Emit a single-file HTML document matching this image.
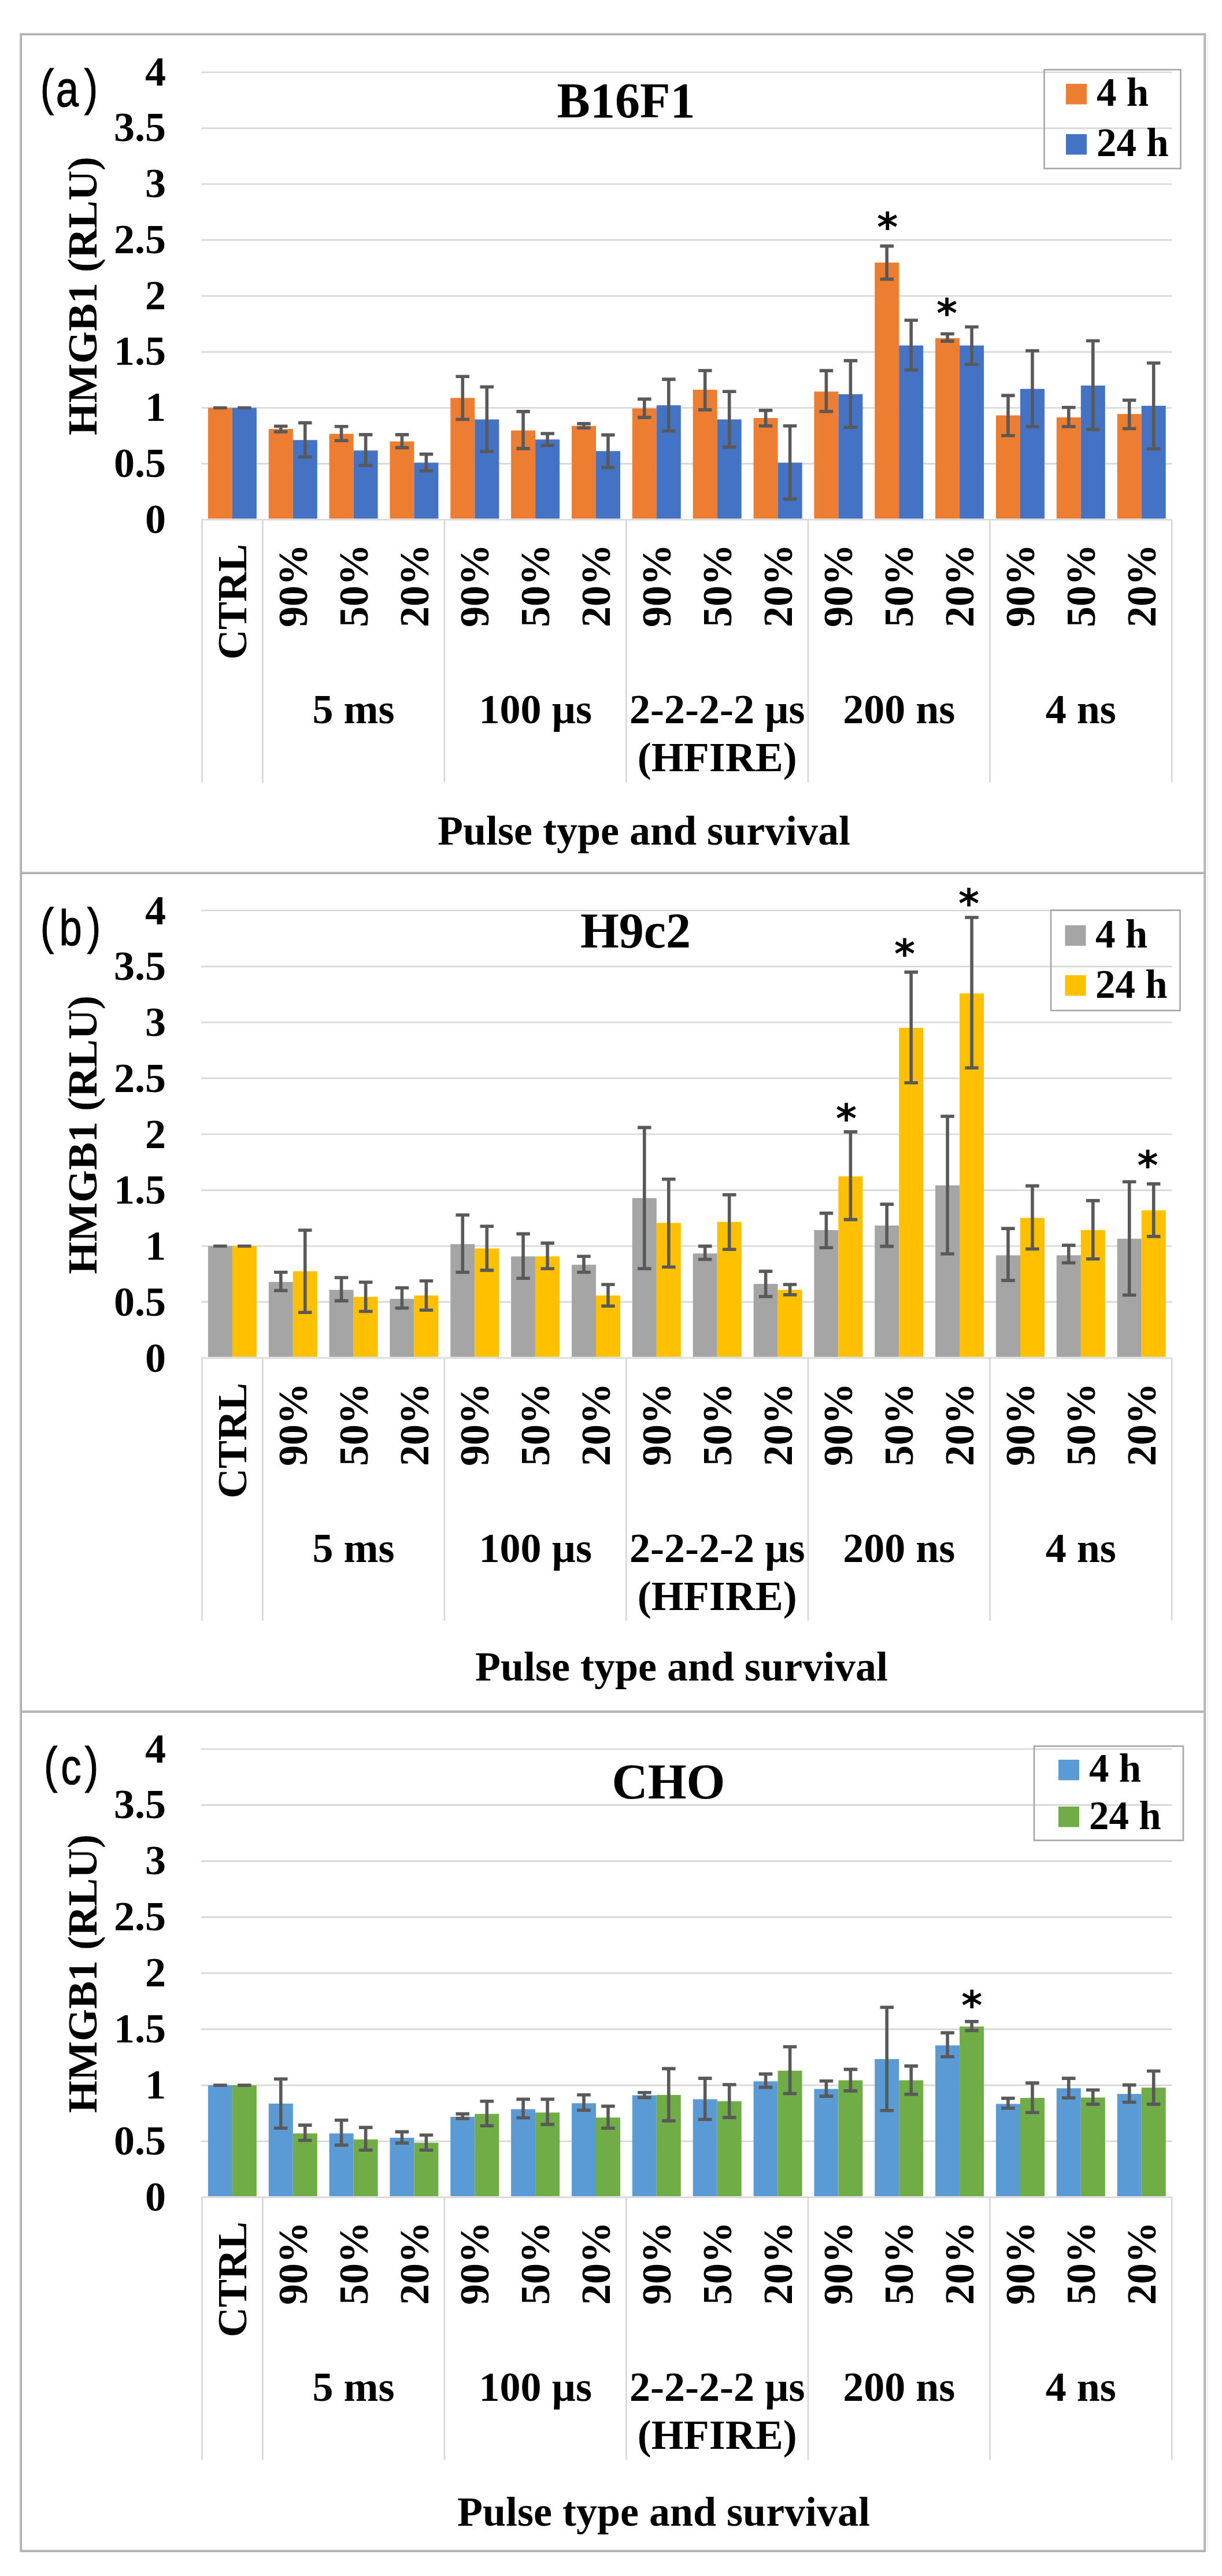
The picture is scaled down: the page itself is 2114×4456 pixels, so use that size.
<!DOCTYPE html>
<html lang="en"><head><meta charset="utf-8"><title>HMGB1 release after pulse treatment</title>
<style>html,body{margin:0;padding:0;background:#fff;overflow:hidden}svg{display:block}text{font-family:"Liberation Serif","DejaVu Serif",serif;font-weight:bold;fill:#000}.s{font-family:"Liberation Sans","DejaVu Sans",sans-serif;font-weight:normal}.st{font-family:"DejaVu Sans","Liberation Sans","DejaVu Sans",sans-serif;font-weight:bold}</style></head><body>
<svg width="2114" height="4456" viewBox="0 0 2114 4456">
<rect width="2114" height="4456" fill="#fff"/>
<g id="panel-a">
<g stroke="#d7d7d7" stroke-width="2.7" fill="none">
<line x1="348.0" y1="899.0" x2="2027.6" y2="899.0"/>
<line x1="348.0" y1="802.2" x2="2027.6" y2="802.2"/>
<line x1="348.0" y1="705.5" x2="2027.6" y2="705.5"/>
<line x1="348.0" y1="608.8" x2="2027.6" y2="608.8"/>
<line x1="348.0" y1="512.0" x2="2027.6" y2="512.0"/>
<line x1="348.0" y1="415.2" x2="2027.6" y2="415.2"/>
<line x1="348.0" y1="318.5" x2="2027.6" y2="318.5"/>
<line x1="348.0" y1="221.8" x2="2027.6" y2="221.8"/>
<line x1="348.0" y1="125.0" x2="2027.6" y2="125.0"/>
<line x1="349.5" y1="899.0" x2="349.5" y2="1353.5"/>
<line x1="454.4" y1="899.0" x2="454.4" y2="1353.5"/>
<line x1="768.9" y1="899.0" x2="768.9" y2="1353.5"/>
<line x1="1083.4" y1="899.0" x2="1083.4" y2="1353.5"/>
<line x1="1398.0" y1="899.0" x2="1398.0" y2="1353.5"/>
<line x1="1712.5" y1="899.0" x2="1712.5" y2="1353.5"/>
<line x1="2027.1" y1="899.0" x2="2027.1" y2="1353.5"/>
</g>
<g fill="#ED7D31">
<rect x="359.9" y="705.5" width="42.0" height="191.6"/>
<rect x="464.8" y="742.1" width="42.0" height="155.0"/>
<rect x="569.6" y="750.5" width="42.0" height="146.6"/>
<rect x="674.4" y="763.6" width="42.0" height="133.5"/>
<rect x="779.3" y="688.4" width="42.0" height="208.7"/>
<rect x="884.1" y="744.6" width="42.0" height="152.5"/>
<rect x="989.0" y="736.8" width="42.0" height="160.3"/>
<rect x="1093.8" y="706.5" width="42.0" height="190.6"/>
<rect x="1198.7" y="674.2" width="42.0" height="222.9"/>
<rect x="1303.6" y="723.1" width="42.0" height="174.0"/>
<rect x="1408.4" y="677.3" width="42.0" height="219.8"/>
<rect x="1513.2" y="454.2" width="42.0" height="442.9"/>
<rect x="1618.1" y="585.0" width="42.0" height="312.1"/>
<rect x="1723.0" y="718.5" width="42.0" height="178.6"/>
<rect x="1827.8" y="722.0" width="42.0" height="175.1"/>
<rect x="1932.7" y="716.2" width="42.0" height="180.9"/>
</g>
<g fill="#4472C4">
<rect x="401.9" y="705.5" width="42.0" height="191.6"/>
<rect x="506.8" y="761.2" width="42.0" height="135.9"/>
<rect x="611.6" y="779.3" width="42.0" height="117.8"/>
<rect x="716.4" y="800.3" width="42.0" height="96.8"/>
<rect x="821.3" y="725.5" width="42.0" height="171.6"/>
<rect x="926.1" y="760.2" width="42.0" height="136.9"/>
<rect x="1031.0" y="780.3" width="42.0" height="116.8"/>
<rect x="1135.8" y="701.1" width="42.0" height="196.0"/>
<rect x="1240.7" y="725.5" width="42.0" height="171.6"/>
<rect x="1345.6" y="800.3" width="42.0" height="96.8"/>
<rect x="1450.4" y="681.9" width="42.0" height="215.2"/>
<rect x="1555.2" y="597.6" width="42.0" height="299.5"/>
<rect x="1660.1" y="597.6" width="42.0" height="299.5"/>
<rect x="1765.0" y="672.7" width="42.0" height="224.4"/>
<rect x="1869.8" y="666.9" width="42.0" height="230.2"/>
<rect x="1974.7" y="701.9" width="42.0" height="195.2"/>
</g>
<g stroke="#595959" stroke-width="5.6" fill="none">
<path d="M369.1 705.5h23.5M369.1 705.5h23.5M485.8 737.3V747.0M474.0 737.3h23.5M474.0 747.0h23.5M590.6 737.8V762.2M578.9 737.8h23.5M578.9 762.2h23.5M695.4 751.9V774.4M683.7 751.9h23.5M683.7 774.4h23.5M800.3 651.3V725.5M788.5 651.3h23.5M788.5 725.5h23.5M905.1 711.9V775.9M893.4 711.9h23.5M893.4 775.9h23.5M1010.0 732.9V740.2M998.2 732.9h23.5M998.2 740.2h23.5M1114.8 690.4V722.1M1103.1 690.4h23.5M1103.1 722.1h23.5M1219.7 641.0V708.9M1208.0 641.0h23.5M1208.0 708.9h23.5M1324.6 709.9V736.8M1312.8 709.9h23.5M1312.8 736.8h23.5M1429.4 641.1V711.7M1417.7 641.1h23.5M1417.7 711.7h23.5M1534.2 425.6V482.9M1522.5 425.6h23.5M1522.5 482.9h23.5M1639.1 577.5V590.1M1627.3 577.5h23.5M1627.3 590.1h23.5M1744.0 684.1V753.5M1732.2 684.1h23.5M1732.2 753.5h23.5M1848.8 704.8V738.0M1837.0 704.8h23.5M1837.0 738.0h23.5M1953.7 692.2V741.5M1941.9 692.2h23.5M1941.9 741.5h23.5M411.1 705.5h23.5M411.1 705.5h23.5M527.8 731.4V790.5M516.0 731.4h23.5M516.0 790.5h23.5M632.6 751.9V805.2M620.9 751.9h23.5M620.9 805.2h23.5M737.4 785.6V814.5M725.7 785.6h23.5M725.7 814.5h23.5M842.3 669.3V781.2M830.5 669.3h23.5M830.5 781.2h23.5M947.1 750.0V770.5M935.4 750.0h23.5M935.4 770.5h23.5M1052.0 752.4V808.6M1040.2 752.4h23.5M1040.2 808.6h23.5M1156.8 656.1V745.6M1145.1 656.1h23.5M1145.1 745.6h23.5M1261.7 677.2V773.4M1250.0 677.2h23.5M1250.0 773.4h23.5M1366.6 736.8V863.3M1354.8 736.8h23.5M1354.8 863.3h23.5M1471.4 623.9V739.2M1459.7 623.9h23.5M1459.7 739.2h23.5M1576.2 554.0V640.0M1564.5 554.0h23.5M1564.5 640.0h23.5M1681.1 565.5V630.2M1669.3 565.5h23.5M1669.3 630.2h23.5M1786.0 606.7V738.0M1774.2 606.7h23.5M1774.2 738.0h23.5M1890.8 589.5V742.6M1879.0 589.5h23.5M1879.0 742.6h23.5M1995.7 628.0V776.5M1983.9 628.0h23.5M1983.9 776.5h23.5"/>
</g>
<text class="st" x="1535.2" y="416.5" font-size="69" text-anchor="middle">*</text>
<text class="st" x="1638.0" y="566.1" font-size="69" text-anchor="middle">*</text>
<g font-size="72" text-anchor="end">
<text x="287" y="921.5">0</text>
<text x="287" y="824.8">0.5</text>
<text x="287" y="728.0">1</text>
<text x="287" y="631.2">1.5</text>
<text x="287" y="534.5">2</text>
<text x="287" y="437.8">2.5</text>
<text x="287" y="341.0">3</text>
<text x="287" y="244.2">3.5</text>
<text x="287" y="147.5">4</text>
</g>
<text font-size="72" text-anchor="middle" transform="translate(167 512.0) rotate(-90)">HMGB1 (RLU)</text>
<text class="s" font-size="84" stroke="#000" stroke-width="1.1" transform="translate(0 181.2) scale(0.84 1.03)"><tspan x="83.1">(</tspan><tspan x="115.1" dy="2.4">a</tspan><tspan x="173.4" dy="-2.4">)</tspan></text>
<text font-size="86" text-anchor="middle" x="1083.0" y="203.0">B16F1</text>
<g font-size="72" text-anchor="end">
<text transform="translate(425.9 941.0) rotate(-90)">CTRL</text>
<text transform="translate(530.8 941.0) rotate(-90)">90%</text>
<text transform="translate(635.6 941.0) rotate(-90)">50%</text>
<text transform="translate(740.5 941.0) rotate(-90)">20%</text>
<text transform="translate(845.3 941.0) rotate(-90)">90%</text>
<text transform="translate(950.2 941.0) rotate(-90)">50%</text>
<text transform="translate(1055.0 941.0) rotate(-90)">20%</text>
<text transform="translate(1159.9 941.0) rotate(-90)">90%</text>
<text transform="translate(1264.7 941.0) rotate(-90)">50%</text>
<text transform="translate(1369.6 941.0) rotate(-90)">20%</text>
<text transform="translate(1474.4 941.0) rotate(-90)">90%</text>
<text transform="translate(1579.3 941.0) rotate(-90)">50%</text>
<text transform="translate(1684.1 941.0) rotate(-90)">20%</text>
<text transform="translate(1789.0 941.0) rotate(-90)">90%</text>
<text transform="translate(1893.8 941.0) rotate(-90)">50%</text>
<text transform="translate(1998.7 941.0) rotate(-90)">20%</text>
</g>
<g font-size="72" text-anchor="middle">
<text x="611.6" y="1251.0">5 ms</text>
<text x="926.2" y="1251.0">100 µs</text>
<text x="1240.7" y="1251.0">2-2-2-2 µs</text>
<text x="1240.7" y="1334.0">(HFIRE)</text>
<text x="1555.3" y="1251.0">200 ns</text>
<text x="1869.8" y="1251.0">4 ns</text>
</g>
<text font-size="72" x="757.0" y="1461.0">Pulse type and survival</text>
<rect x="1806.5" y="120.5" width="236.0" height="171.0" fill="none" stroke="#a6a6a6" stroke-width="2.6"/>
<rect x="1844.0" y="145.0" width="36" height="35.5" fill="#ED7D31"/>
<rect x="1844.0" y="232.0" width="36" height="35.5" fill="#4472C4"/>
<text font-size="69" x="1897.0" y="183.0">4 h</text>
<text font-size="69" x="1897.0" y="270.0">24 h</text>
</g>
<g id="panel-b">
<g stroke="#d7d7d7" stroke-width="2.7" fill="none">
<line x1="348.0" y1="2349.0" x2="2027.6" y2="2349.0"/>
<line x1="348.0" y1="2252.2" x2="2027.6" y2="2252.2"/>
<line x1="348.0" y1="2155.5" x2="2027.6" y2="2155.5"/>
<line x1="348.0" y1="2058.8" x2="2027.6" y2="2058.8"/>
<line x1="348.0" y1="1962.0" x2="2027.6" y2="1962.0"/>
<line x1="348.0" y1="1865.2" x2="2027.6" y2="1865.2"/>
<line x1="348.0" y1="1768.5" x2="2027.6" y2="1768.5"/>
<line x1="348.0" y1="1671.8" x2="2027.6" y2="1671.8"/>
<line x1="348.0" y1="1575.0" x2="2027.6" y2="1575.0"/>
<line x1="349.5" y1="2349.0" x2="349.5" y2="2803.5"/>
<line x1="454.4" y1="2349.0" x2="454.4" y2="2803.5"/>
<line x1="768.9" y1="2349.0" x2="768.9" y2="2803.5"/>
<line x1="1083.4" y1="2349.0" x2="1083.4" y2="2803.5"/>
<line x1="1398.0" y1="2349.0" x2="1398.0" y2="2803.5"/>
<line x1="1712.5" y1="2349.0" x2="1712.5" y2="2803.5"/>
<line x1="2027.1" y1="2349.0" x2="2027.1" y2="2803.5"/>
</g>
<g fill="#A5A5A5">
<rect x="359.9" y="2155.5" width="42.0" height="191.6"/>
<rect x="464.8" y="2217.5" width="42.0" height="129.6"/>
<rect x="569.6" y="2231.2" width="42.0" height="115.9"/>
<rect x="674.4" y="2246.7" width="42.0" height="100.4"/>
<rect x="779.3" y="2152.1" width="42.0" height="195.0"/>
<rect x="884.1" y="2173.3" width="42.0" height="173.8"/>
<rect x="989.0" y="2187.7" width="42.0" height="159.4"/>
<rect x="1093.8" y="2072.4" width="42.0" height="274.7"/>
<rect x="1198.7" y="2168.2" width="42.0" height="178.9"/>
<rect x="1303.6" y="2220.9" width="42.0" height="126.2"/>
<rect x="1408.4" y="2127.8" width="42.0" height="219.3"/>
<rect x="1513.2" y="2119.9" width="42.0" height="227.2"/>
<rect x="1618.1" y="2050.4" width="42.0" height="296.7"/>
<rect x="1723.0" y="2171.4" width="42.0" height="175.7"/>
<rect x="1827.8" y="2171.4" width="42.0" height="175.7"/>
<rect x="1932.7" y="2142.7" width="42.0" height="204.4"/>
</g>
<g fill="#FFC000">
<rect x="401.9" y="2155.5" width="42.0" height="191.6"/>
<rect x="506.8" y="2199.1" width="42.0" height="148.0"/>
<rect x="611.6" y="2243.3" width="42.0" height="103.8"/>
<rect x="716.4" y="2241.0" width="42.0" height="106.1"/>
<rect x="821.3" y="2159.6" width="42.0" height="187.5"/>
<rect x="926.1" y="2173.3" width="42.0" height="173.8"/>
<rect x="1031.0" y="2241.0" width="42.0" height="106.1"/>
<rect x="1135.8" y="2115.4" width="42.0" height="231.7"/>
<rect x="1240.7" y="2113.7" width="42.0" height="233.4"/>
<rect x="1345.6" y="2231.2" width="42.0" height="115.9"/>
<rect x="1450.4" y="2034.9" width="42.0" height="312.2"/>
<rect x="1555.2" y="1778.0" width="42.0" height="569.1"/>
<rect x="1660.1" y="1718.4" width="42.0" height="628.7"/>
<rect x="1765.0" y="2106.7" width="42.0" height="240.4"/>
<rect x="1869.8" y="2127.8" width="42.0" height="219.3"/>
<rect x="1974.7" y="2093.6" width="42.0" height="253.5"/>
</g>
<g stroke="#595959" stroke-width="5.6" fill="none">
<path d="M369.1 2155.5h23.5M369.1 2155.5h23.5M485.8 2200.8V2232.4M474.0 2200.8h23.5M474.0 2232.4h23.5M590.6 2210.0V2250.1M578.9 2210.0h23.5M578.9 2250.1h23.5M695.4 2227.8V2262.7M683.7 2227.8h23.5M683.7 2262.7h23.5M800.3 2101.7V2200.8M788.5 2101.7h23.5M788.5 2200.8h23.5M905.1 2134.4V2211.2M893.4 2134.4h23.5M893.4 2211.2h23.5M1010.0 2173.3V2200.8M998.2 2173.3h23.5M998.2 2200.8h23.5M1114.8 1950.4V2194.5M1103.1 1950.4h23.5M1103.1 2194.5h23.5M1219.7 2155.6V2178.5M1208.0 2155.6h23.5M1208.0 2178.5h23.5M1324.6 2199.1V2242.7M1312.8 2199.1h23.5M1312.8 2242.7h23.5M1429.4 2098.6V2158.2M1417.7 2098.6h23.5M1417.7 2158.2h23.5M1534.2 2083.1V2155.9M1522.5 2083.1h23.5M1522.5 2155.9h23.5M1639.1 1931.0V2169.0M1627.3 1931.0h23.5M1627.3 2169.0h23.5M1744.0 2125.1V2214.9M1732.2 2125.1h23.5M1732.2 2214.9h23.5M1848.8 2154.1V2184.5M1837.0 2154.1h23.5M1837.0 2184.5h23.5M1953.7 2044.2V2240.3M1941.9 2044.2h23.5M1941.9 2240.3h23.5M411.1 2155.5h23.5M411.1 2155.5h23.5M527.8 2128.0V2270.2M516.0 2128.0h23.5M516.0 2270.2h23.5M632.6 2218.0V2268.5M620.9 2218.0h23.5M620.9 2268.5h23.5M737.4 2215.7V2266.2M725.7 2215.7h23.5M725.7 2266.2h23.5M842.3 2121.2V2197.4M830.5 2121.2h23.5M830.5 2197.4h23.5M947.1 2150.4V2194.5M935.4 2150.4h23.5M935.4 2194.5h23.5M1052.0 2222.0V2259.3M1040.2 2222.0h23.5M1040.2 2259.3h23.5M1156.8 2039.8V2191.7M1145.1 2039.8h23.5M1145.1 2191.7h23.5M1261.7 2066.7V2161.3M1250.0 2066.7h23.5M1250.0 2161.3h23.5M1366.6 2222.0V2239.8M1354.8 2222.0h23.5M1354.8 2239.8h23.5M1471.4 1957.9V2109.6M1459.7 1957.9h23.5M1459.7 2109.6h23.5M1576.2 1681.6V1873.0M1564.5 1681.6h23.5M1564.5 1873.0h23.5M1681.1 1587.0V1847.3M1669.3 1587.0h23.5M1669.3 1847.3h23.5M1786.0 2051.4V2160.5M1774.2 2051.4h23.5M1774.2 2160.5h23.5M1890.8 2076.9V2177.8M1879.0 2076.9h23.5M1879.0 2177.8h23.5M1995.7 2047.9V2138.9M1983.9 2047.9h23.5M1983.9 2138.9h23.5"/>
</g>
<text class="st" x="1464.0" y="1959.0" font-size="69" text-anchor="middle">*</text>
<text class="st" x="1565.0" y="1673.5" font-size="69" text-anchor="middle">*</text>
<text class="st" x="1676.0" y="1587.0" font-size="69" text-anchor="middle">*</text>
<text class="st" x="1985.5" y="2040.3" font-size="69" text-anchor="middle">*</text>
<g font-size="72" text-anchor="end">
<text x="287" y="2372.5">0</text>
<text x="287" y="2275.8">0.5</text>
<text x="287" y="2179.0">1</text>
<text x="287" y="2082.2">1.5</text>
<text x="287" y="1985.5">2</text>
<text x="287" y="1888.8">2.5</text>
<text x="287" y="1792.0">3</text>
<text x="287" y="1695.2">3.5</text>
<text x="287" y="1598.5">4</text>
</g>
<text font-size="72" text-anchor="middle" transform="translate(167 1963.0) rotate(-90)">HMGB1 (RLU)</text>
<text class="s" font-size="84" stroke="#000" stroke-width="1.1" transform="translate(0 1632.2) scale(0.84 1.03)"><tspan x="83.1">(</tspan><tspan x="121.9" dy="2.4">b</tspan><tspan x="179.4" dy="-2.4">)</tspan></text>
<text font-size="86" text-anchor="middle" x="1099.5" y="1638.5">H9c2</text>
<g font-size="72" text-anchor="end">
<text transform="translate(425.9 2392.0) rotate(-90)">CTRL</text>
<text transform="translate(530.8 2392.0) rotate(-90)">90%</text>
<text transform="translate(635.6 2392.0) rotate(-90)">50%</text>
<text transform="translate(740.5 2392.0) rotate(-90)">20%</text>
<text transform="translate(845.3 2392.0) rotate(-90)">90%</text>
<text transform="translate(950.2 2392.0) rotate(-90)">50%</text>
<text transform="translate(1055.0 2392.0) rotate(-90)">20%</text>
<text transform="translate(1159.9 2392.0) rotate(-90)">90%</text>
<text transform="translate(1264.7 2392.0) rotate(-90)">50%</text>
<text transform="translate(1369.6 2392.0) rotate(-90)">20%</text>
<text transform="translate(1474.4 2392.0) rotate(-90)">90%</text>
<text transform="translate(1579.3 2392.0) rotate(-90)">50%</text>
<text transform="translate(1684.1 2392.0) rotate(-90)">20%</text>
<text transform="translate(1789.0 2392.0) rotate(-90)">90%</text>
<text transform="translate(1893.8 2392.0) rotate(-90)">50%</text>
<text transform="translate(1998.7 2392.0) rotate(-90)">20%</text>
</g>
<g font-size="72" text-anchor="middle">
<text x="611.6" y="2702.0">5 ms</text>
<text x="926.2" y="2702.0">100 µs</text>
<text x="1240.7" y="2702.0">2-2-2-2 µs</text>
<text x="1240.7" y="2785.0">(HFIRE)</text>
<text x="1555.3" y="2702.0">200 ns</text>
<text x="1869.8" y="2702.0">4 ns</text>
</g>
<text font-size="72" x="822.0" y="2907.0">Pulse type and survival</text>
<rect x="1818.0" y="1574.5" width="223.5" height="173.5" fill="none" stroke="#a6a6a6" stroke-width="2.6"/>
<rect x="1842.5" y="1600.5" width="36" height="35.5" fill="#A5A5A5"/>
<rect x="1842.5" y="1687.0" width="36" height="35.5" fill="#FFC000"/>
<text font-size="69" x="1895.0" y="1639.0">4 h</text>
<text font-size="69" x="1895.0" y="1726.0">24 h</text>
</g>
<g id="panel-c">
<g stroke="#d7d7d7" stroke-width="2.7" fill="none">
<line x1="348.0" y1="3800.9" x2="2027.6" y2="3800.9"/>
<line x1="348.0" y1="3704.0" x2="2027.6" y2="3704.0"/>
<line x1="348.0" y1="3607.1" x2="2027.6" y2="3607.1"/>
<line x1="348.0" y1="3510.1" x2="2027.6" y2="3510.1"/>
<line x1="348.0" y1="3413.2" x2="2027.6" y2="3413.2"/>
<line x1="348.0" y1="3316.3" x2="2027.6" y2="3316.3"/>
<line x1="348.0" y1="3219.4" x2="2027.6" y2="3219.4"/>
<line x1="348.0" y1="3122.4" x2="2027.6" y2="3122.4"/>
<line x1="348.0" y1="3025.5" x2="2027.6" y2="3025.5"/>
<line x1="349.5" y1="3800.9" x2="349.5" y2="4255.4"/>
<line x1="454.4" y1="3800.9" x2="454.4" y2="4255.4"/>
<line x1="768.9" y1="3800.9" x2="768.9" y2="4255.4"/>
<line x1="1083.4" y1="3800.9" x2="1083.4" y2="4255.4"/>
<line x1="1398.0" y1="3800.9" x2="1398.0" y2="4255.4"/>
<line x1="1712.5" y1="3800.9" x2="1712.5" y2="4255.4"/>
<line x1="2027.1" y1="3800.9" x2="2027.1" y2="4255.4"/>
</g>
<g fill="#5B9BD5">
<rect x="359.9" y="3607.1" width="42.0" height="191.9"/>
<rect x="464.8" y="3638.8" width="42.0" height="160.2"/>
<rect x="569.6" y="3690.4" width="42.0" height="108.6"/>
<rect x="674.4" y="3697.9" width="42.0" height="101.1"/>
<rect x="779.3" y="3661.7" width="42.0" height="137.3"/>
<rect x="884.1" y="3648.5" width="42.0" height="150.5"/>
<rect x="989.0" y="3638.2" width="42.0" height="160.8"/>
<rect x="1093.8" y="3624.4" width="42.0" height="174.6"/>
<rect x="1198.7" y="3631.3" width="42.0" height="167.7"/>
<rect x="1303.6" y="3600.3" width="42.0" height="198.7"/>
<rect x="1408.4" y="3613.5" width="42.0" height="185.5"/>
<rect x="1513.2" y="3561.8" width="42.0" height="237.2"/>
<rect x="1618.1" y="3538.2" width="42.0" height="260.8"/>
<rect x="1723.0" y="3639.3" width="42.0" height="159.7"/>
<rect x="1827.8" y="3612.3" width="42.0" height="186.7"/>
<rect x="1932.7" y="3622.1" width="42.0" height="176.9"/>
</g>
<g fill="#70AD47">
<rect x="401.9" y="3607.1" width="42.0" height="191.9"/>
<rect x="506.8" y="3690.4" width="42.0" height="108.6"/>
<rect x="611.6" y="3700.8" width="42.0" height="98.2"/>
<rect x="716.4" y="3706.5" width="42.0" height="92.5"/>
<rect x="821.3" y="3656.6" width="42.0" height="142.4"/>
<rect x="926.1" y="3654.3" width="42.0" height="144.7"/>
<rect x="1031.0" y="3662.9" width="42.0" height="136.1"/>
<rect x="1135.8" y="3623.8" width="42.0" height="175.2"/>
<rect x="1240.7" y="3634.7" width="42.0" height="164.3"/>
<rect x="1345.6" y="3581.9" width="42.0" height="217.1"/>
<rect x="1450.4" y="3598.5" width="42.0" height="200.5"/>
<rect x="1555.2" y="3598.5" width="42.0" height="200.5"/>
<rect x="1660.1" y="3505.5" width="42.0" height="293.5"/>
<rect x="1765.0" y="3629.0" width="42.0" height="170.0"/>
<rect x="1869.8" y="3628.4" width="42.0" height="170.6"/>
<rect x="1974.7" y="3611.2" width="42.0" height="187.8"/>
</g>
<g stroke="#595959" stroke-width="5.6" fill="none">
<path d="M369.1 3607.1h23.5M369.1 3607.1h23.5M485.8 3596.3V3681.3M474.0 3596.3h23.5M474.0 3681.3h23.5M590.6 3667.5V3710.6M578.9 3667.5h23.5M578.9 3710.6h23.5M695.4 3687.6V3707.1M683.7 3687.6h23.5M683.7 3707.1h23.5M800.3 3656.6V3664.6M788.5 3656.6h23.5M788.5 3664.6h23.5M905.1 3631.3V3663.5M893.4 3631.3h23.5M893.4 3663.5h23.5M1010.0 3623.8V3650.2M998.2 3623.8h23.5M998.2 3650.2h23.5M1114.8 3619.8V3628.4M1103.1 3619.8h23.5M1103.1 3628.4h23.5M1219.7 3595.1V3666.3M1208.0 3595.1h23.5M1208.0 3666.3h23.5M1324.6 3587.6V3610.6M1312.8 3587.6h23.5M1312.8 3610.6h23.5M1429.4 3599.7V3626.1M1417.7 3599.7h23.5M1417.7 3626.1h23.5M1534.2 3472.2V3650.8M1522.5 3472.2h23.5M1522.5 3650.8h23.5M1639.1 3516.4V3557.8M1627.3 3516.4h23.5M1627.3 3557.8h23.5M1744.0 3629.6V3646.8M1732.2 3629.6h23.5M1732.2 3646.8h23.5M1848.8 3595.1V3629.0M1837.0 3595.1h23.5M1837.0 3629.0h23.5M1953.7 3606.6V3636.5M1941.9 3606.6h23.5M1941.9 3636.5h23.5M411.1 3607.1h23.5M411.1 3607.1h23.5M527.8 3676.1V3702.5M516.0 3676.1h23.5M516.0 3702.5h23.5M632.6 3680.1V3719.2M620.9 3680.1h23.5M620.9 3719.2h23.5M737.4 3693.3V3719.2M725.7 3693.3h23.5M725.7 3719.2h23.5M842.3 3634.7V3677.2M830.5 3634.7h23.5M830.5 3677.2h23.5M947.1 3631.3V3674.9M935.4 3631.3h23.5M935.4 3674.9h23.5M1052.0 3643.4V3681.3M1040.2 3643.4h23.5M1040.2 3681.3h23.5M1156.8 3578.4V3668.6M1145.1 3578.4h23.5M1145.1 3668.6h23.5M1261.7 3606.0V3662.9M1250.0 3606.0h23.5M1250.0 3662.9h23.5M1366.6 3540.5V3621.5M1354.8 3540.5h23.5M1354.8 3621.5h23.5M1471.4 3579.6V3616.9M1459.7 3579.6h23.5M1459.7 3616.9h23.5M1576.2 3573.9V3622.7M1564.5 3573.9h23.5M1564.5 3622.7h23.5M1681.1 3496.9V3512.4M1669.3 3496.9h23.5M1669.3 3512.4h23.5M1786.0 3603.1V3654.3M1774.2 3603.1h23.5M1774.2 3654.3h23.5M1890.8 3615.2V3639.9M1879.0 3615.2h23.5M1879.0 3639.9h23.5M1995.7 3582.5V3639.9M1983.9 3582.5h23.5M1983.9 3639.9h23.5"/>
</g>
<text class="st" x="1681.3" y="3493.3" font-size="69" text-anchor="middle">*</text>
<g font-size="72" text-anchor="end">
<text x="287" y="3823.9">0</text>
<text x="287" y="3727.0">0.5</text>
<text x="287" y="3630.1">1</text>
<text x="287" y="3533.1">1.5</text>
<text x="287" y="3436.2">2</text>
<text x="287" y="3339.3">2.5</text>
<text x="287" y="3242.4">3</text>
<text x="287" y="3145.4">3.5</text>
<text x="287" y="3048.5">4</text>
</g>
<text font-size="72" text-anchor="middle" transform="translate(167 3414.0) rotate(-90)">HMGB1 (RLU)</text>
<text class="s" font-size="84" stroke="#000" stroke-width="1.1" transform="translate(0 3083.2) scale(0.84 1.03)"><tspan x="90.6">(</tspan><tspan x="125.3" dy="2.4">c</tspan><tspan x="174.6" dy="-2.4">)</tspan></text>
<text font-size="86" text-anchor="middle" x="1156.5" y="3111.0">CHO</text>
<g font-size="72" text-anchor="end">
<text transform="translate(425.9 3843.0) rotate(-90)">CTRL</text>
<text transform="translate(530.8 3843.0) rotate(-90)">90%</text>
<text transform="translate(635.6 3843.0) rotate(-90)">50%</text>
<text transform="translate(740.5 3843.0) rotate(-90)">20%</text>
<text transform="translate(845.3 3843.0) rotate(-90)">90%</text>
<text transform="translate(950.2 3843.0) rotate(-90)">50%</text>
<text transform="translate(1055.0 3843.0) rotate(-90)">20%</text>
<text transform="translate(1159.9 3843.0) rotate(-90)">90%</text>
<text transform="translate(1264.7 3843.0) rotate(-90)">50%</text>
<text transform="translate(1369.6 3843.0) rotate(-90)">20%</text>
<text transform="translate(1474.4 3843.0) rotate(-90)">90%</text>
<text transform="translate(1579.3 3843.0) rotate(-90)">50%</text>
<text transform="translate(1684.1 3843.0) rotate(-90)">20%</text>
<text transform="translate(1789.0 3843.0) rotate(-90)">90%</text>
<text transform="translate(1893.8 3843.0) rotate(-90)">50%</text>
<text transform="translate(1998.7 3843.0) rotate(-90)">20%</text>
</g>
<g font-size="72" text-anchor="middle">
<text x="611.6" y="4153.0">5 ms</text>
<text x="926.2" y="4153.0">100 µs</text>
<text x="1240.7" y="4153.0">2-2-2-2 µs</text>
<text x="1240.7" y="4236.0">(HFIRE)</text>
<text x="1555.3" y="4153.0">200 ns</text>
<text x="1869.8" y="4153.0">4 ns</text>
</g>
<text font-size="72" x="791.0" y="4368.5">Pulse type and survival</text>
<rect x="1789.0" y="3020.5" width="258.0" height="163.0" fill="none" stroke="#a6a6a6" stroke-width="2.6"/>
<rect x="1831.0" y="3044.0" width="36" height="35.5" fill="#5B9BD5"/>
<rect x="1831.0" y="3125.0" width="36" height="35.5" fill="#70AD47"/>
<text font-size="69" x="1884.0" y="3082.0">4 h</text>
<text font-size="69" x="1884.0" y="3164.0">24 h</text>
</g>
<g fill="none" stroke="#bdbdbd" stroke-width="3.8">
<rect x="36" y="59" width="2048" height="4353.5"/>
<line x1="36" y1="1510" x2="2084" y2="1510"/>
<line x1="36" y1="2960.5" x2="2084" y2="2960.5"/>
</g>
<g fill="none" stroke="#a3a3a3" stroke-width="1.4">
<path d="M37.2 60.2V4413.7H2085.2V57.1M37.2 60.2H2082.1M37.2 1511.2H2082.1M37.2 2961.7H2082.1"/>
</g>
<line x1="2089.2" y1="59" x2="2089.2" y2="4414" stroke="#ededed" stroke-width="1.8"/>
</svg></body></html>
